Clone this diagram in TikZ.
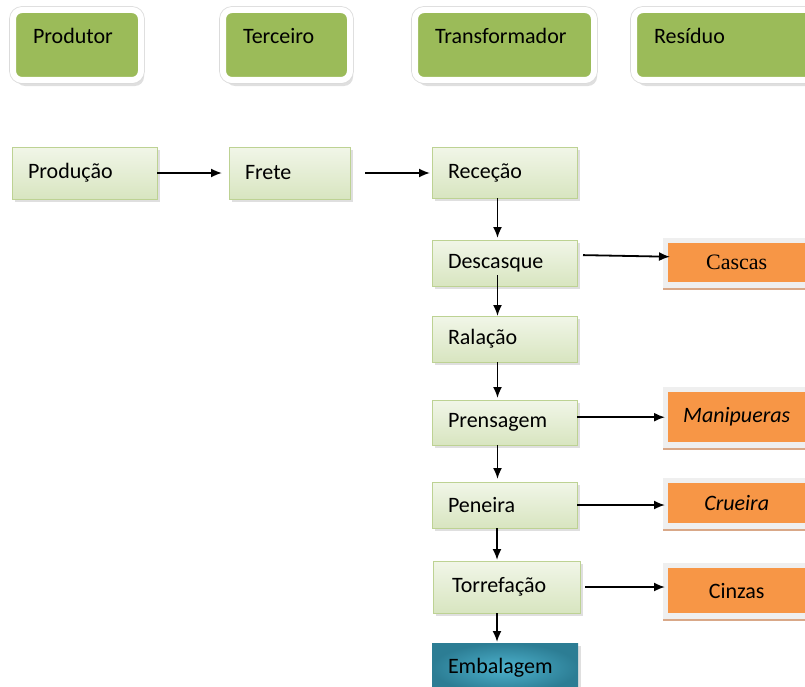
\documentclass[tikz,border=0pt]{standalone}
\usepackage{fontspec}
\setmainfont{Carlito}
\newfontfamily\timesfont{Liberation Serif}
\usetikzlibrary{arrows.meta,shadows,calc,backgrounds}
\definecolor{hdrgreen}{HTML}{9BBB59}
\definecolor{proctop}{HTML}{F1F6E8}
\definecolor{procbot}{HTML}{D8E5C0}
\definecolor{procborder}{HTML}{BDD293}
\definecolor{orangefill}{HTML}{F79646}
\definecolor{framegray}{HTML}{EFEFEF}
\definecolor{frametan}{HTML}{D9A888}
\definecolor{tealout}{HTML}{2C7D94}
\definecolor{tealin}{HTML}{4DB2CD}
\begin{document}
\begin{tikzpicture}[x=1bp,y=-1bp,
  font=\fontsize{22bp}{26bp}\selectfont,
  hdr/.style={draw=white, line width=6bp, fill=hdrgreen, rounded corners=9bp,
    anchor=north west, inner xsep=20bp, inner ysep=0pt, align=left,
    text height=34bp, text depth=36bp, outer sep=0pt,
    drop shadow={shadow xshift=3bp, shadow yshift=-6bp, opacity=0.25},
    preaction={draw=black!14, line width=7.6bp}},
  proc/.style={draw=procborder, line width=1bp, top color=proctop, bottom color=procbot,
    anchor=north west, inner xsep=16bp, inner ysep=0pt, align=left, outer sep=0pt,
    drop shadow={shadow xshift=3bp, shadow yshift=-3bp, opacity=0.25}},
  resid/.style={fill=orangefill, anchor=north west, inner sep=0pt, align=center,
    minimum width=137bp},
  arr/.style={-{Latex[length=11bp,width=9bp]}, line width=1.8bp, black}]
\useasboundingbox (0,0) rectangle (805,687);
\clip (0,0) rectangle (805,687);

% header boxes
\node[hdr, minimum width=128bp, text width=88bp] (hprod) at (13,10) {Produtor};
\node[hdr, minimum width=127bp, text width=87bp] (hterc) at (223,10) {Terceiro};
\node[hdr, minimum width=179bp, text width=139bp] (htran) at (415,10) {Transformador};
\node[hdr, minimum width=186bp, text width=146bp] (hres) at (634,10) {Resíduo};

% process boxes
\node[proc, minimum width=145bp, minimum height=52bp, text width=113bp] (prod) at (12,147) {Produção};
\node[proc, minimum width=121bp, minimum height=52bp, text width=89bp] (fret) at (229,147) {Frete};
\node[proc, minimum width=145bp, minimum height=51bp, text width=113bp] (rec) at (432,147) {Receção};
\node[proc, minimum width=145bp, minimum height=46bp, text width=113bp] (desc) at (432,240) {Descasque};
\node[proc, minimum width=145bp, minimum height=46bp, text width=113bp] (ral) at (432,316) {Ralação};
\node[proc, minimum width=145bp, minimum height=45bp, text width=113bp] (pren) at (432,400) {Prensagem};
\node[proc, minimum width=145bp, minimum height=46bp, text width=113bp] (pen) at (432,482) {Peneira};
\node[proc, minimum width=147bp, minimum height=52bp, inner xsep=19bp, text width=109bp] (torr) at (433,561) {Torrefação};
\node[proc, draw=none, inner color=tealin, outer color=tealout, minimum width=146bp, minimum height=50bp, text width=114bp] (emb) at (432,643) {Embalagem};

% residue boxes
\node[resid, minimum height=39bp] (casc) at (668,243) {\timesfont Cascas};
\node[resid, minimum height=50bp] (manip) at (668,392) {\itshape Manipueras};
\node[resid, minimum height=40bp] (crue) at (668,483) {\itshape Crueira};
\node[resid, minimum height=45bp] (cinz) at (668,568) {Cinzas};

\begin{scope}[on background layer]
  \foreach \b in {casc,manip,crue,cinz}{
    \fill[framegray] ($(\b.north west)+(-5,-5)$) rectangle ($(\b.south east)+(10,8)$);
    \fill[frametan] ($(\b.south west)+(-5,5.5)$) rectangle ($(\b.south east)+(10,8)$);
  }
\end{scope}

% connectors
\draw[arr, shorten >=7bp] (prod.east) -- (fret.west);
\draw[arr, shorten <=15bp, shorten >=2bp] (fret.east) -- (fret.east -| rec.west);
\draw[arr, shorten >=2bp] ([xshift=-7bp]rec.south) -- ([xshift=-7bp]desc.north);
\draw[arr, shorten <=6bp, shorten >=-2bp] ([yshift=8bp]desc.east) -- ([yshift=6bp]casc.west);
\draw[arr] ([xshift=-7bp,yshift=11bp]desc.south) -- ([xshift=-7bp]ral.north);
\draw[arr, shorten >=2bp] ([xshift=-7bp]ral.south) -- ([xshift=-7bp]pren.north);
\draw[arr, shorten >=3bp] (pren.east |- manip.west) -- (manip.west);
\draw[arr, shorten >=3bp] ([xshift=-7bp]pren.south) -- ([xshift=-7bp]pen.north);
\draw[arr, shorten >=3bp] (pen.east) -- (pen.east -| crue.west);
\draw[arr, shorten >=1bp] ([xshift=-7.5bp]pen.south) -- ([xshift=-7.5bp]pen.south |- torr.north);
\draw[arr, shorten <=5bp, shorten >=3bp] (torr.east) -- (torr.east -| cinz.west);
\draw[arr, shorten >=1bp] ([xshift=-9.5bp]torr.south) -- ([xshift=-9.5bp]torr.south |- emb.north);
\end{tikzpicture}
\end{document}
